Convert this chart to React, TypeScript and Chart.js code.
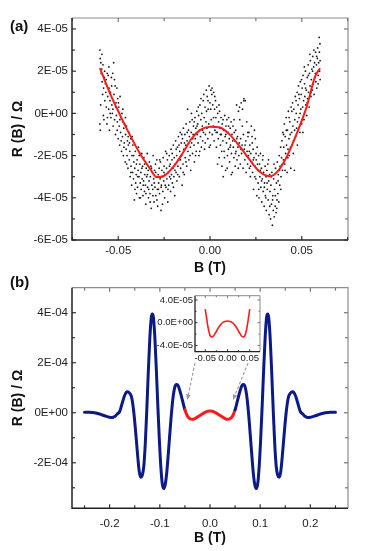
import React, { useEffect, useRef } from 'react';
import { Chart, registerables } from 'chart.js';
Chart.register(...registerables);

const FONT = '"Liberation Sans", Arial, Helvetica, sans-serif';

// ---------- Panel (a) ----------
const aXTicks = [-0.05, 0, 0.05];
const aXTickLabels = ['-0.05', '0.00', '0.05'];
const aXMinor = [-0.075, -0.025, 0.025, 0.075];
const aYTicks = [-6e-5, -4e-5, -2e-5, 0, 2e-5, 4e-5];
const aYTickLabels = ['-6E-05', '-4E-05', '-2E-05', '0E+00', '2E-05', '4E-05'];
const aYMinor = [-5e-5, -3e-5, -1e-5, 1e-5, 3e-5];

// red fit: B (T), R (Ω)
const aFitB = [-0.06, -0.0545, -0.049, -0.0436, -0.0382, -0.0327, -0.0291, -0.0255, -0.02, -0.0145, -0.01, -0.0055, 0, 0.0055, 0.011, 0.0164, 0.0218, 0.0273, 0.0327, 0.0373, 0.0418, 0.0473, 0.0527, 0.0573, 0.06];
const aFitR = [2.14e-5, 0.95e-5, -0.08e-5, -1.03e-5, -1.9e-5, -2.62e-5, -3.02e-5, -2.98e-5, -2.54e-5, -1.83e-5, -1.19e-5, -0.79e-5, -0.63e-5, -0.67e-5, -1.03e-5, -1.59e-5, -2.22e-5, -2.78e-5, -2.98e-5, -2.7e-5, -2.06e-5, -0.95e-5, 0.32e-5, 1.75e-5, 2.14e-5];

// measured points: [B in mT, R in 1e-5 Ω]
const aScatter: [number, number][] = [
  [-60.0, 3.0], [-60.0, -0.5], [-59.8, 2.6], [-59.8, -0.8], [-59.5, 2.4], [-59.3, 1.9], [-59.0, 2.1], [-58.8, 1.5], [-58.5, 0.9], [-58.3, 2.3],
  [-58.0, 1.2], [-57.8, -0.3], [-57.5, 1.7], [-57.3, 0.6], [-57.0, 1.4], [-56.8, 1.0], [-56.5, 0.3], [-56.2, -0.5], [-56.0, 1.9], [-55.7, 0.8],
  [-55.5, 1.8], [-55.2, 0.2], [-55.0, 1.2], [-54.8, -0.8], [-54.5, 0.6], [-54.2, 1.0], [-54.0, -0.2], [-53.7, 1.7], [-53.5, 0.4], [-53.2, 0.0],
  [-53.0, 1.9], [-52.8, -0.6], [-52.5, 2.4], [-52.3, 0.9], [-52.0, -0.3], [-51.7, 1.3], [-51.5, -1.0], [-51.2, 0.5], [-51.0, -0.1], [-50.7, 1.2],
  [-50.5, -0.4], [-50.3, 0.7], [-50.0, -1.2], [-49.7, 0.3], [-49.5, -0.6], [-49.2, -1.5], [-49.0, 0.8], [-48.7, -0.9], [-48.5, -0.2], [-48.2, -1.8],
  [-48.0, 0.0], [-47.7, -1.1], [-47.5, 0.2], [-47.2, -2.0], [-47.0, -0.7], [-46.7, -1.4], [-46.5, -0.5], [-46.2, -2.3], [-46.0, -1.0], [-45.7, -1.7],
  [-45.5, -0.6], [-45.2, -2.0], [-45.0, -1.3], [-44.7, -2.6], [-44.5, -1.5], [-44.2, -0.9], [-44.0, -2.2], [-43.7, -1.8], [-43.5, -3.0], [-43.2, -1.2],
  [-43.0, -2.5], [-42.7, -3.4], [-42.5, -2.0], [-42.2, -2.8], [-42.0, -1.5], [-41.7, -3.1], [-41.5, -2.3], [-41.2, -4.1], [-41.0, -2.6], [-40.7, -1.8],
  [-40.5, -3.3], [-40.2, -2.9], [-40.0, -3.8], [-39.7, -2.2], [-39.5, -3.5], [-39.2, -2.7], [-39.0, -1.6], [-38.7, -3.0], [-38.5, -4.0], [-38.2, -2.4],
  [-38.0, -3.3], [-37.7, -2.8], [-37.5, -3.6], [-37.2, -1.9], [-37.0, -3.1], [-36.7, -2.5], [-36.5, -3.9], [-36.2, -3.2], [-36.0, -2.1], [-35.7, -3.7],
  [-35.5, -2.9], [-35.2, -3.4], [-35.0, -4.3], [-34.7, -2.6], [-34.5, -3.0], [-34.2, -1.9], [-34.0, -3.5], [-33.7, -2.7], [-33.5, -4.0], [-33.2, -3.2],
  [-33.0, -2.3], [-32.7, -3.8], [-32.5, -3.0], [-32.2, -2.5], [-32.0, -4.5], [-31.7, -3.4], [-31.5, -2.8], [-31.2, -3.6], [-31.0, -2.0], [-30.7, -3.1],
  [-30.5, -4.2], [-30.2, -2.7], [-30.0, -3.5], [-29.7, -2.4], [-29.5, -3.9], [-29.2, -3.0], [-29.0, -2.2], [-28.7, -3.6], [-28.5, -4.4], [-28.2, -2.9],
  [-28.0, -3.3], [-27.7, -2.6], [-27.5, -3.8], [-27.2, -3.1], [-27.0, -2.3], [-26.7, -4.6], [-26.5, -3.4], [-26.2, -2.7], [-26.0, -3.0], [-25.7, -3.7],
  [-25.5, -2.1], [-25.2, -3.2], [-25.0, -2.5], [-24.7, -4.0], [-24.5, -2.9], [-24.2, -1.8], [-24.0, -3.5], [-23.7, -2.6], [-23.5, -3.1], [-23.2, -2.2],
  [-23.0, -4.2], [-22.7, -2.8], [-22.5, -3.4], [-22.2, -2.0], [-22.0, -3.0], [-21.7, -2.4], [-21.5, -3.7], [-21.2, -1.7], [-21.0, -2.9], [-20.7, -2.2],
  [-20.5, -3.3], [-20.2, -2.6], [-20.0, -1.5], [-19.7, -3.0], [-19.5, -2.1], [-19.2, -3.9], [-19.0, -2.4], [-18.7, -1.3], [-18.5, -2.8], [-18.2, -2.0],
  [-18.0, -3.2], [-17.7, -1.6], [-17.5, -2.5], [-17.2, -1.1], [-17.0, -2.2], [-16.7, -3.0], [-16.5, -1.8], [-16.2, -0.9], [-16.0, -2.6], [-15.7, -1.4],
  [-15.5, -2.0], [-15.2, -3.4], [-15.0, -1.2], [-14.7, -2.4], [-14.5, -0.7], [-14.2, -1.7], [-14.0, -2.9], [-13.7, -1.0], [-13.5, -2.1], [-13.2, -1.5],
  [-13.0, -0.5], [-12.7, -2.5], [-12.5, -1.3], [-12.2, 0.2], [-12.0, -1.8], [-11.7, -0.8], [-11.5, -2.2], [-11.2, -1.1], [-11.0, -0.4], [-10.7, -1.6],
  [-10.5, -2.7], [-10.2, -0.9], [-10.0, -1.4], [-9.7, -0.3], [-9.5, -1.9], [-9.2, -1.0], [-9.0, -0.6], [-8.7, -1.5], [-8.5, -2.3], [-8.2, -0.2],
  [-8.0, -1.2], [-7.7, -0.7], [-7.5, -1.8], [-7.2, 0.1], [-7.0, -1.0], [-6.7, -0.5], [-6.5, -1.4], [-6.2, -0.1], [-6.0, -2.0], [-5.7, -0.8],
  [-5.5, 0.4], [-5.2, -1.1], [-5.0, -0.3], [-4.7, -1.6], [-4.5, 0.0], [-4.2, -0.6], [-4.0, -1.3], [-3.7, 0.6], [-3.5, -0.9], [-3.2, -0.2],
  [-3.0, -1.7], [-2.7, 0.3], [-2.5, -1.0], [-2.2, -0.4], [-2.0, 1.1], [-1.7, -0.7], [-1.5, 0.8], [-1.2, -1.2], [-1.0, 0.2], [-0.7, -0.5],
  [-0.5, 1.3], [-0.2, -0.9], [0.0, 0.5], [0.2, -1.5], [0.5, 1.1], [0.7, -0.3], [1.0, 0.9], [1.2, -1.0], [1.5, 0.4], [1.7, -0.6],
  [2.0, 1.0], [2.2, -1.3], [2.5, 0.2], [2.7, -0.8], [3.0, 0.6], [3.2, -0.2], [3.5, -1.6], [3.7, 0.3], [4.0, -0.9], [4.2, 0.0],
  [4.5, -1.2], [4.7, -0.4], [5.0, -2.1], [5.2, 0.1], [5.5, -0.7], [5.7, -1.5], [6.0, -0.2], [6.2, -1.0], [6.5, -2.5], [6.7, -0.5],
  [7.0, -1.3], [7.2, -3.0], [7.5, -0.8], [7.7, -1.8], [8.0, -0.1], [8.2, -1.1], [8.5, -2.7], [8.7, -0.6], [9.0, -1.4], [9.2, -0.3],
  [9.5, -2.0], [9.7, -0.9], [10.0, -1.7], [10.2, -0.2], [10.5, -1.2], [10.7, -2.3], [11.0, -0.7], [11.2, -1.5], [11.5, -0.4], [11.7, -1.9],
  [12.0, -1.0], [12.2, -2.8], [12.5, -0.6], [12.7, -1.6], [13.0, -2.1], [13.2, -0.9], [13.5, -1.3], [13.7, -2.5], [14.0, -0.8], [14.2, -1.8],
  [14.5, 0.4], [14.7, -2.2], [15.0, -1.1], [15.2, -1.6], [15.5, 0.1], [15.7, -2.0], [16.0, -1.4], [16.2, -0.3], [16.5, -2.4], [16.7, -1.2],
  [17.0, 0.5], [17.2, -1.9], [17.5, -1.5], [17.7, 0.2], [18.0, -2.6], [18.2, -1.0], [18.5, 0.7], [18.7, -1.7], [19.0, -2.2], [19.2, 0.6],
  [19.5, -1.3], [19.7, -2.8], [20.0, -0.4], [20.2, -1.8], [20.5, -2.4], [20.7, -1.1], [21.0, -2.0], [21.2, -0.9], [21.5, -2.6], [21.7, -1.5],
  [22.0, -3.0], [22.2, -1.9], [22.5, -0.6], [22.7, -2.3], [23.0, -1.4], [23.2, -2.8], [23.5, -1.7], [23.7, -3.6], [24.0, -2.1], [24.2, -0.8],
  [24.5, -2.5], [24.7, -1.2], [25.0, -3.1], [25.2, -2.2], [25.5, -3.9], [25.7, -1.6], [26.0, -2.7], [26.2, -3.3], [26.5, -2.0], [26.7, -4.0],
  [27.0, -2.4], [27.2, -3.0], [27.5, -1.9], [27.7, -3.5], [28.0, -2.6], [28.2, -4.2], [28.5, -3.1], [28.7, -2.2], [29.0, -3.7], [29.2, -2.8],
  [29.5, -4.4], [29.7, -3.3], [30.0, -2.5], [30.2, -3.9], [30.5, -3.0], [30.7, -4.6], [31.0, -2.7], [31.2, -3.6], [31.5, -2.4], [31.7, -4.1],
  [32.0, -3.2], [32.2, -4.8], [32.5, -2.9], [32.7, -3.7], [33.0, -5.0], [33.2, -3.4], [33.5, -4.3], [33.7, -2.8], [34.0, -5.3], [34.2, -3.9],
  [34.5, -4.6], [34.7, -3.1], [35.0, -4.9], [35.2, -3.6], [35.5, -4.4], [35.7, -2.6], [36.0, -4.7], [36.2, -3.3], [36.5, -4.1], [36.7, -2.3],
  [37.0, -3.8], [37.2, -2.9], [37.5, -4.2], [37.7, -2.0], [38.0, -3.4], [38.2, -2.5], [38.5, -1.6], [38.7, -3.0], [39.0, -2.1], [39.2, -1.3],
  [39.5, -2.7], [39.7, -0.9], [40.0, -2.2], [40.2, -1.6], [40.5, -0.5], [40.7, -2.4], [41.0, -1.1], [41.2, -1.9], [41.5, -0.2], [41.7, -1.5],
  [42.0, -2.8], [42.2, -0.8], [42.5, -1.7], [42.7, 0.1], [43.0, -1.2], [43.2, -2.0], [43.5, -0.4], [43.7, -1.0], [44.0, -2.6], [44.2, 0.3],
  [44.5, -0.9], [44.7, -1.5], [45.0, 0.5], [45.2, -0.6], [45.5, -1.3], [45.7, 0.2], [46.0, -2.7], [46.2, -0.3], [46.5, 0.8], [46.7, -1.1],
  [47.0, 0.0], [47.2, -0.7], [47.5, 1.0], [47.7, -0.4], [48.0, 0.4], [48.2, 1.3], [48.5, -0.2], [48.7, 0.7], [49.0, -0.9], [49.2, 1.5],
  [49.5, 0.2], [49.7, 0.9], [50.0, -0.5], [50.2, 1.2], [50.5, 0.3], [50.7, 1.8], [51.0, 0.6], [51.2, -0.3], [51.5, 1.4], [51.7, 0.8],
  [52.0, 2.0], [52.2, 0.4], [52.5, 1.1], [52.7, -0.1], [53.0, 1.7], [53.2, 0.7], [53.5, 2.3], [53.7, 1.0], [54.0, 0.3], [54.2, 1.9],
  [54.5, 1.3], [54.7, 2.5], [55.0, 0.8], [55.2, 1.6], [55.5, 2.1], [55.7, 1.1], [56.0, 2.7], [56.2, 1.4], [56.5, 2.2], [56.7, 0.9],
  [57.0, 2.4], [57.2, 1.7], [57.5, 2.9], [57.7, 1.5], [58.0, 2.3], [58.2, 1.2], [58.5, 2.6], [58.7, 3.1], [59.0, 1.8], [59.2, 2.4],
  [59.5, 3.6], [59.7, 2.0], [60.0, 2.5], [60.0, 1.6],
  // second sweep
  [-59.6, 0.4], [-58.9, 2.8], [-58.1, -0.1], [-57.4, 2.0], [-56.6, 1.6], [-55.9, -0.2], [-55.1, 2.2], [-54.4, 0.0], [-53.6, 1.3], [-52.9, 0.2],
  [-52.1, 1.6], [-51.4, 0.3], [-50.6, -0.8], [-49.9, 0.5], [-49.1, -0.3], [-48.4, -1.3], [-47.6, -0.4], [-46.9, -1.6], [-46.1, -0.2], [-45.4, -2.4],
  [-44.6, -1.1], [-43.9, -1.4], [-43.1, -2.8], [-42.4, -1.1], [-41.6, -2.0], [-40.9, -3.6], [-40.1, -2.4], [-39.4, -3.0], [-38.6, -2.0], [-37.9, -4.0],
  [-37.1, -2.6], [-36.4, -3.4], [-35.6, -2.4], [-34.9, -3.8], [-34.1, -2.9], [-33.4, -3.6], [-32.6, -4.2], [-31.9, -2.6], [-31.1, -3.9], [-30.4, -3.3],
  [-29.6, -2.8], [-28.9, -4.1], [-28.1, -3.6], [-27.4, -2.2], [-26.6, -3.5], [-25.9, -4.3], [-25.1, -2.8], [-24.4, -3.4], [-23.6, -1.9], [-22.9, -3.6],
  [-22.1, -2.5], [-21.4, -3.1], [-20.6, -1.9], [-19.9, -3.5], [-19.1, -2.7], [-18.4, -1.7], [-17.6, -2.9], [-16.9, -1.5], [-16.1, -2.2], [-15.4, -1.0],
  [-14.6, -2.8], [-13.9, -1.4], [-13.1, -2.3], [-12.4, -0.9], [-11.6, -1.4], [-10.9, -2.0], [-10.1, 0.0], [-9.4, -1.2], [-8.6, -0.4], [-7.9, -2.0],
  [-7.1, -0.6], [-6.4, 0.3], [-5.6, -1.8], [-4.9, 0.7], [-4.1, -0.8], [-3.4, 0.9], [-2.6, -1.4], [-1.9, 0.1], [-1.1, 0.6], [-0.4, -1.6],
  [0.4, 0.2], [1.1, 1.2], [1.9, -0.2], [2.6, 0.8], [3.4, -0.9], [4.1, -2.4], [4.9, 0.4], [5.6, -1.0], [6.4, -1.8], [7.1, -0.3],
  [7.9, -2.1], [8.6, -1.0], [9.4, -2.6], [10.1, -0.6], [10.9, -1.6], [11.6, -2.9], [12.4, -1.3], [13.1, -0.3], [13.9, -1.9], [14.6, -1.2],
  [15.4, -2.6], [16.1, 0.3], [16.9, -1.7], [17.6, -0.6], [18.4, 0.6], [19.1, -1.5], [19.9, -2.0], [20.6, -0.9], [21.4, -1.8], [22.1, -2.5],
  [22.9, -1.1], [23.6, -2.2], [24.4, -3.0], [25.1, -1.9], [25.9, -2.4], [26.6, -3.6], [27.4, -2.7], [28.1, -3.2], [28.9, -2.0], [29.6, -3.5],
  [30.4, -4.0], [31.1, -3.3], [31.9, -2.2], [32.6, -4.4], [33.4, -3.0], [34.1, -4.1], [34.9, -2.4], [35.6, -3.9], [36.4, -4.5], [37.1, -3.2],
  [37.9, -2.7], [38.6, -3.6], [39.4, -2.4], [40.1, -1.0], [40.9, -2.7], [41.6, -0.8], [42.4, -2.1], [43.1, -0.2], [43.9, -1.6], [44.6, 0.1],
  [45.4, -1.9], [46.1, -0.8], [46.9, 0.6], [47.6, -1.5], [48.4, 0.9], [49.1, 0.0], [49.9, 1.6], [50.6, -0.9], [51.4, 2.2], [52.1, 1.2],
  [52.9, 0.5], [53.6, 1.8], [54.4, 2.8], [55.1, 1.0], [55.9, 2.0], [56.6, 3.0], [57.4, 1.9], [58.1, 2.7], [58.9, 1.4], [59.6, 2.9],
  [59.9, 3.3],
];

// ---------- Panel (b) ----------
const bXTicks = [-0.2, -0.1, 0, 0.1, 0.2];
const bXTickLabels = ['-0.2', '-0.1', '0.0', '0.1', '0.2'];
const bXMinor = [-0.25, -0.15, -0.05, 0.05, 0.15, 0.25];
const bYTicks = [-2e-4, 0, 2e-4, 4e-4];
const bYTickLabels = ['-2E-04', '0E+00', '2E-04', '4E-04'];
const bYMinor = [-3e-4, -1e-4, 1e-4, 3e-4];

// B (T) and R (1e-4 Ω)
const bB = [
  -0.25, -0.24, -0.23, -0.22, -0.21, -0.2, -0.195, -0.19, -0.185, -0.18, -0.175, -0.17, -0.165, -0.16, -0.156, -0.152, -0.148, -0.144, -0.141, -0.138,
  -0.135, -0.132, -0.129, -0.126, -0.123, -0.12, -0.117, -0.115, -0.113, -0.11, -0.107, -0.104, -0.101, -0.098, -0.095, -0.092, -0.089, -0.086, -0.082, -0.078,
  -0.074, -0.07, -0.067, -0.064, -0.06, -0.055, -0.05, -0.045, -0.04, -0.035, -0.03, -0.02, -0.01, 0,
  0.01, 0.02, 0.03, 0.035, 0.04, 0.045, 0.05, 0.055, 0.06, 0.064, 0.067, 0.07, 0.074, 0.078, 0.082, 0.086,
  0.089, 0.092, 0.095, 0.098, 0.101, 0.104, 0.107, 0.11, 0.113, 0.115, 0.117, 0.12, 0.123, 0.126, 0.129, 0.132,
  0.135, 0.138, 0.141, 0.144, 0.148, 0.152, 0.156, 0.16, 0.165, 0.17, 0.175, 0.18, 0.185, 0.19, 0.195, 0.2,
  0.21, 0.22, 0.23, 0.24, 0.25,
];
const bR = [
  0.02, 0.02, 0.0, -0.05, -0.12, -0.18, -0.19, -0.15, -0.05, 0.05, 0.38, 0.7, 0.84, 0.78, 0.6, 0.05, -0.8, -1.75, -2.35, -2.58,
  -2.5, -2.15, -1.25, 0.1, 1.6, 2.95, 3.8, 3.95, 3.85, 3.05, 1.75, 0.3, -1.05, -2.15, -2.85, -3.03, -2.85, -2.35, -1.35, -0.3,
  0.55, 1.03, 1.13, 1.1, 0.88, 0.5, 0.12, -0.13, -0.24, -0.26, -0.23, -0.11, 0.02, 0.07,
  0.02, -0.11, -0.23, -0.26, -0.24, -0.13, 0.12, 0.5, 0.88, 1.1, 1.13, 1.03, 0.55, -0.3, -1.35, -2.35,
  -2.85, -3.03, -2.85, -2.15, -1.05, 0.3, 1.75, 3.05, 3.85, 3.95, 3.8, 2.95, 1.6, 0.1, -1.25, -2.15,
  -2.5, -2.58, -2.35, -1.75, -0.8, 0.05, 0.6, 0.78, 0.84, 0.7, 0.38, 0.05, -0.05, -0.15, -0.19, -0.18,
  -0.12, -0.05, 0.0, 0.02, 0.02,
];
const bRedRange = [-0.0505, 0.0505];

// dashed pointer arrows (from inset to curve), B (T) / R (Ω)
const bArrowFromB = [-0.03, 0.0758];
const bArrowFromR = [1.99e-4, 1.99e-4];
const bArrowToB = [-0.0453, 0.0459];
const bArrowToR = [0.51e-4, 0.51e-4];

// ---------- Inset ----------
const iXTicks = [-0.05, 0, 0.05];
const iXTickLabels = ['-0.05', '0.00', '0.05'];
const iXMinor = [-0.025, 0.025];
const iYTicks = [-4e-5, 0, 4e-5];
const iYTickLabels = ['-4.0E-05', '0.0E+00', '4.0E-05'];
const iYMinor = [-2e-5, 2e-5];
const iB = [-0.05, -0.047, -0.044, -0.041, -0.038, -0.035, -0.031, -0.027, -0.022, -0.017, -0.012, -0.006, 0, 0.006, 0.012, 0.017, 0.022, 0.027, 0.031, 0.035, 0.038, 0.041, 0.044, 0.047, 0.05];
const iR = [2.4, 0.8, -0.7, -1.8, -2.4, -2.5, -2.3, -1.8, -1.1, -0.5, -0.05, 0.2, 0.3, 0.2, -0.05, -0.5, -1.1, -1.8, -2.3, -2.5, -2.4, -1.8, -0.7, 0.8, 2.4];

const RED = '#ff1a1a';
const NAVY = '#0c1a86';

function framePlugin(xMaj: number[], xMin: number[], yMaj: number[], yMin: number[], len: number, minLen: number, lw: number) {
  return {
    id: 'frame',
    afterDatasetsDraw(chart: any) {
      const { ctx, chartArea: a, scales } = chart;
      const xs = scales.x, ys = scales.y;
      ctx.save();
      ctx.lineCap = 'butt';
      ctx.strokeStyle = '#8c8c8c';
      ctx.lineWidth = lw;
      ctx.beginPath();
      ctx.moveTo(a.left, a.top); ctx.lineTo(a.right, a.top); ctx.lineTo(a.right, a.bottom);
      ctx.stroke();
      const drawX = (vals: number[], l: number) => {
        for (const v of vals) {
          const p = xs.getPixelForValue(v);
          ctx.strokeStyle = '#333';
          ctx.beginPath(); ctx.moveTo(p, a.bottom); ctx.lineTo(p, a.bottom - l); ctx.stroke();
          ctx.strokeStyle = '#777';
          ctx.beginPath(); ctx.moveTo(p, a.top); ctx.lineTo(p, a.top + l); ctx.stroke();
        }
      };
      const drawY = (vals: number[], l: number) => {
        for (const v of vals) {
          const p = ys.getPixelForValue(v);
          ctx.strokeStyle = '#333';
          ctx.beginPath(); ctx.moveTo(a.left, p); ctx.lineTo(a.left + l, p); ctx.stroke();
          ctx.strokeStyle = '#777';
          ctx.beginPath(); ctx.moveTo(a.right, p); ctx.lineTo(a.right - l, p); ctx.stroke();
        }
      };
      ctx.lineWidth = lw;
      drawX(xMaj, len); drawX(xMin, minLen);
      drawY(yMaj, len); drawY(yMin, minLen);
      ctx.strokeStyle = '#222';
      ctx.lineWidth = lw + 0.3;
      ctx.beginPath();
      ctx.moveTo(a.left, a.top); ctx.lineTo(a.left, a.bottom); ctx.lineTo(a.right, a.bottom);
      ctx.stroke();
      ctx.restore();
    },
  };
}

const arrowPlugin = {
  id: 'arrows',
  afterDatasetsDraw(chart: any) {
    const { ctx, scales } = chart;
    ctx.save();
    for (let i = 0; i < bArrowFromB.length; i++) {
      const x0 = scales.x.getPixelForValue(bArrowFromB[i]);
      const y0 = scales.y.getPixelForValue(bArrowFromR[i]);
      const x1 = scales.x.getPixelForValue(bArrowToB[i]);
      const y1 = scales.y.getPixelForValue(bArrowToR[i]);
      const ang = Math.atan2(y1 - y0, x1 - x0);
      const hl = 6;
      const xe = x1 - Math.cos(ang) * hl * 0.8, ye = y1 - Math.sin(ang) * hl * 0.8;
      ctx.strokeStyle = '#9a9a9a';
      ctx.lineWidth = 1.1;
      ctx.setLineDash([3, 2]);
      ctx.beginPath(); ctx.moveTo(x0, y0); ctx.lineTo(xe, ye); ctx.stroke();
      ctx.setLineDash([]);
      ctx.fillStyle = '#9a9a9a';
      ctx.beginPath();
      ctx.moveTo(x1, y1);
      ctx.lineTo(x1 - hl * Math.cos(ang - 0.4), y1 - hl * Math.sin(ang - 0.4));
      ctx.lineTo(x1 - hl * Math.cos(ang + 0.4), y1 - hl * Math.sin(ang + 0.4));
      ctx.closePath(); ctx.fill();
    }
    ctx.restore();
  },
};

function axisCfg(opts: {
  min: number; max: number; ticks: number[]; labels: string[]; fit: number; horizontal: boolean;
  pad: number; fontSize: number; title?: string; titlePad?: any;
}) {
  return {
    type: 'linear',
    min: opts.min,
    max: opts.max,
    grid: { display: false, drawTicks: false },
    border: { display: false },
    afterBuildTicks: (s: any) => { s.ticks = opts.ticks.map((v) => ({ value: v })); },
    afterFit: (s: any) => { if (opts.horizontal) s.height = opts.fit; else s.width = opts.fit; },
    ticks: {
      color: '#222',
      padding: opts.pad,
      maxRotation: 0,
      autoSkip: false,
      font: { family: FONT, size: opts.fontSize },
      callback: (_v: any, i: number) => opts.labels[i],
    },
    title: opts.title
      ? { display: true, text: opts.title, color: '#111', padding: opts.titlePad, font: { family: FONT, size: 14, weight: 'bold', lineHeight: 1 } }
      : { display: false },
  };
}

export default function App() {
  const refA = useRef<HTMLCanvasElement>(null);
  const refB = useRef<HTMLCanvasElement>(null);
  const refI = useRef<HTMLCanvasElement>(null);

  useEffect(() => {
    const charts: Chart[] = [];
    charts.push(new Chart(refA.current!, {
      type: 'scatter',
      data: {
        datasets: [
          {
            data: aFitB.map((b, i) => ({ x: b, y: aFitR[i] })),
            showLine: true, borderColor: RED, borderWidth: 2, pointRadius: 0, cubicInterpolationMode: 'monotone',
          } as any,
          {
            data: aScatter.map(([b, r]) => ({ x: b / 1000, y: r * 1e-5 })),
            pointRadius: 0.9, pointBackgroundColor: '#1a1a1a', pointBorderWidth: 0, showLine: false,
          } as any,
        ],
      },
      options: {
        responsive: false, animation: false,
        layout: { padding: { left: 0, right: 34, top: 18, bottom: 0 } },
        plugins: { legend: { display: false }, tooltip: { enabled: false } },
        scales: {
          x: axisCfg({ min: -0.0752, max: 0.0752, ticks: aXTicks, labels: aXTickLabels, fit: 35, horizontal: true, pad: 4, fontSize: 11.5, title: 'B (T)', titlePad: { top: 0, bottom: 0 } }) as any,
          y: axisCfg({ min: -6e-5, max: 4.52e-5, ticks: aYTicks, labels: aYTickLabels, fit: 72, horizontal: false, pad: 4, fontSize: 11.5, title: 'R (B) / Ω', titlePad: { top: 11, bottom: 0 } }) as any,
        },
      },
      plugins: [framePlugin(aXTicks, aXMinor, aYTicks, aYMinor, 4, 3, 1.2)],
    }));

    charts.push(new Chart(refB.current!, {
      type: 'line',
      data: {
        datasets: [
          {
            data: bB.map((b, i) => ({ x: b, y: bR[i] * 1e-4 })),
            borderColor: NAVY, borderWidth: 3, pointRadius: 0, cubicInterpolationMode: 'monotone',
            borderJoinStyle: 'round', borderCapStyle: 'round',
            segment: {
              borderColor: (c: any) => (c.p0.parsed.x >= bRedRange[0] && c.p1.parsed.x <= bRedRange[1] ? RED : undefined),
            },
          } as any,
        ],
      },
      options: {
        responsive: false, animation: false,
        layout: { padding: { left: 0, right: 34, top: 12.7, bottom: 0 } },
        plugins: { legend: { display: false }, tooltip: { enabled: false } },
        scales: {
          x: axisCfg({ min: -0.275, max: 0.275, ticks: bXTicks, labels: bXTickLabels, fit: 42.7, horizontal: true, pad: 9, fontSize: 11.5, title: 'B (T)', titlePad: { top: 0, bottom: 6 } }) as any,
          y: axisCfg({ min: -3.82e-4, max: 5e-4, ticks: bYTicks, labels: bYTickLabels, fit: 72, horizontal: false, pad: 4, fontSize: 11.5, title: 'R (B) / Ω', titlePad: { top: 11, bottom: 0 } }) as any,
        },
      },
      plugins: [framePlugin(bXTicks, bXMinor, bYTicks, bYMinor, 4, 3, 1.2), arrowPlugin],
    }));

    charts.push(new Chart(refI.current!, {
      type: 'line',
      data: {
        datasets: [
          {
            data: iB.map((b, i) => ({ x: b, y: iR[i] * 1e-5 })),
            borderColor: RED, borderWidth: 1.6, pointRadius: 0, cubicInterpolationMode: 'monotone',
          } as any,
        ],
      },
      options: {
        responsive: false, animation: false,
        layout: { padding: { left: 0, right: 5, top: 7, bottom: 0 } },
        plugins: { legend: { display: false }, tooltip: { enabled: false } },
        scales: {
          x: axisCfg({ min: -0.073, max: 0.073, ticks: iXTicks, labels: iXTickLabels, fit: 12.3, horizontal: true, pad: 1, fontSize: 9.5 }) as any,
          y: axisCfg({ min: -5.1e-5, max: 4.75e-5, ticks: iYTicks, labels: iYTickLabels, fit: 45, horizontal: false, pad: 2, fontSize: 9.5 }) as any,
        },
      },
      plugins: [framePlugin(iXTicks, iXMinor, iYTicks, iYMinor, 2.5, 1.5, 1)],
    }));

    return () => charts.forEach((c) => c.destroy());
  }, []);

  const lbl: React.CSSProperties = { position: 'absolute', fontFamily: FONT, fontWeight: 'bold', fontSize: 15, lineHeight: '15px', color: '#111' };

  return (
    <div style={{ position: 'absolute', left: 0, top: 0, width: 382, height: 551, background: '#fff', overflow: 'hidden' }}>
      <canvas ref={refA} width={382} height={275} style={{ position: 'absolute', left: 0, top: 0, width: 382, height: 275 }} />
      <canvas ref={refB} width={382} height={276} style={{ position: 'absolute', left: 0, top: 275, width: 382, height: 276 }} />
      <canvas ref={refI} width={115} height={76} style={{ position: 'absolute', left: 150, top: 288, width: 115, height: 76 }} />
      <div style={{ ...lbl, left: 10, top: 18 }}>(a)</div>
      <div style={{ ...lbl, left: 10, top: 274 }}>(b)</div>
    </div>
  );
}
